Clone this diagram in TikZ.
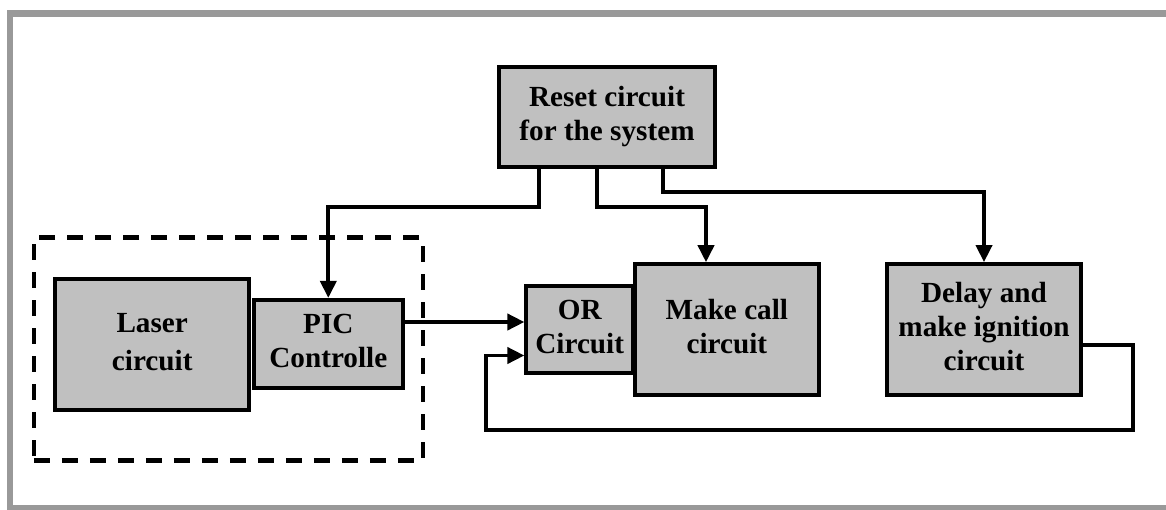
\documentclass[tikz,border=0pt]{standalone}
\usepackage{fontspec}
\setmainfont{Liberation Serif}
\usetikzlibrary{arrows.meta}
\definecolor{blockgray}{RGB}{192,192,192}
\definecolor{framegray}{RGB}{153,153,153}
\newcommand{\blocktext}[2][0pt]{\raisebox{#1}{\begin{tabular}{@{}c@{}}#2\end{tabular}}}
\tikzset{
  block/.style={draw, line width=2pt, fill=blockgray, inner sep=0pt,
    font=\fontsize{14.6}{17}\selectfont\bfseries},
  group/.style={draw, line width=2.2pt, dash pattern=on 8pt off 6pt, inner sep=0pt},
  frame/.style={draw=framegray, line width=3.3pt},
  link/.style={line width=1.9pt, -{Triangle[length=8.5pt,width=8pt]}},
}
\begin{document}
\begin{tikzpicture}[x=0.5pt,y=-0.5pt]
      \useasboundingbox (0,0) rectangle (1166,509);
      \draw[frame] (1170,13.5) -- (10,13.5) -- (10,508) -- (1170,508);
      \draw
        (228.3,349) node[group, minimum width=194.5pt, minimum height=111.6pt] (ctrl){}
        (607,117) node[block, minimum width=108.1pt, minimum height=50.1pt] (reset){\blocktext[-0.6pt]{Reset circuit\\for the system}}
        (152.2,344.2) node[block, minimum width=96.9pt, minimum height=65.6pt] (laser){\blocktext[-5.4pt]{Laser\\[2pt]circuit}}
        (328.3,343.7) node[block, minimum width=74.8pt, minimum height=43.8pt] (pic){\blocktext[-1.6pt]{PIC\\Controlle}}
        (579.7,329.5) node[block, minimum width=53.3pt, minimum height=43.6pt] (or){\blocktext[0.6pt]{OR\\Circuit}}
        (726.8,329.5) node[block, minimum width=91.9pt, minimum height=65.3pt] (make){\blocktext[-1.2pt]{Make call\\circuit}}
        (984,329.4) node[block, minimum width=97.1pt, minimum height=65.3pt] (delay){\blocktext[-7.6pt]{Delay and\\make ignition\\circuit}};
      \coordinate (r1) at (539,207);
      \coordinate (r2) at (597,207);
      \coordinate (r2b) at (706,207);
      \coordinate (r3) at (663,192);
      \coordinate (in1) at (525,322);
      \coordinate (in2) at (525,355.5);
      \coordinate (out) at (1083,345);
      \coordinate (fb1) at (1133,430);
      \coordinate (fb2) at (486,430);
      \begin{scope}[link]
        \draw (reset.south -| r1) -- (r1) -| (pic.north);
        \draw (reset.south -| r2) -- (r2) -- (r2b) -- (make.north -| r2b);
        \draw (reset.south -| r3) -- (r3) -| (delay.north);
        \draw (pic.east |- in1) -- (or.west |- in1);
        \draw (delay.east |- out) -| (fb1) -- (fb2) |- (or.west |- in2);
      \end{scope}
    \end{tikzpicture}
\end{document}
